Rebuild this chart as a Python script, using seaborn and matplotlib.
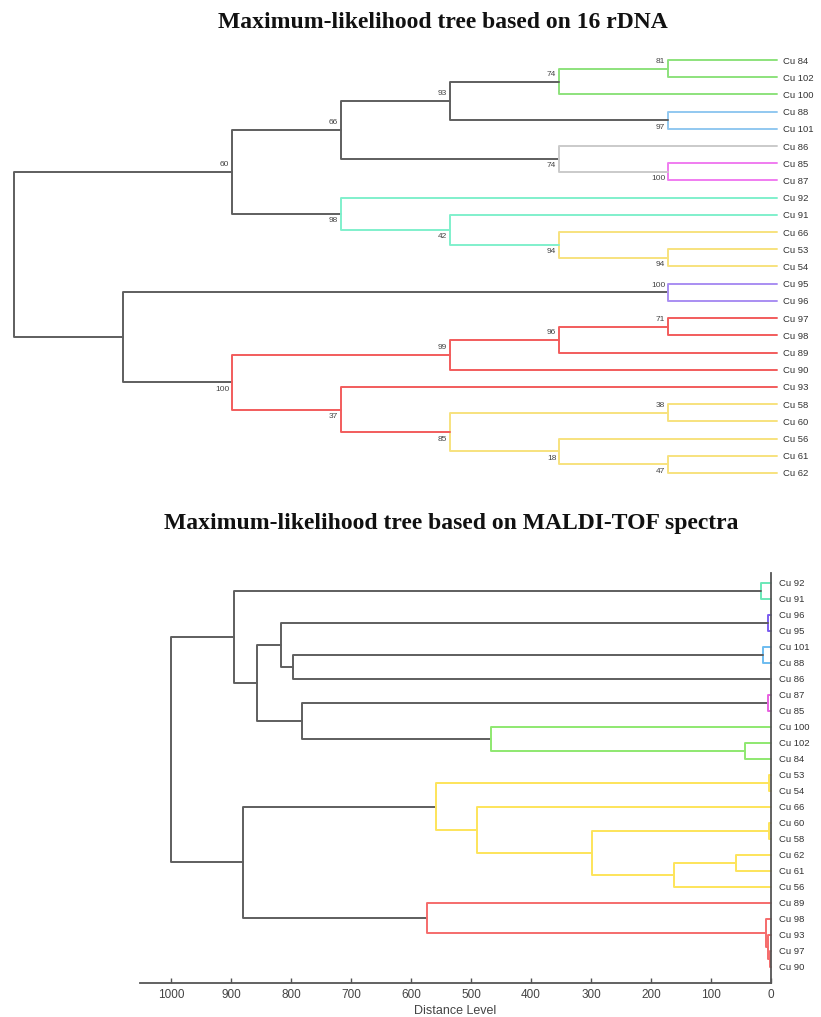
import matplotlib
matplotlib.use("Agg")
import matplotlib.pyplot as plt
import pandas as pd
import seaborn as sns

# ---- 16 rDNA tree (cladogram, bootstrap support) ----
top_leaves = ["Cu 84", "Cu 102", "Cu 100", "Cu 88", "Cu 101", "Cu 86", "Cu 85", "Cu 87",
              "Cu 92", "Cu 91", "Cu 66", "Cu 53", "Cu 54", "Cu 95", "Cu 96", "Cu 97",
              "Cu 98", "Cu 89", "Cu 90", "Cu 93", "Cu 58", "Cu 60", "Cu 56", "Cu 61", "Cu 62"]

# name, first child, second child, bootstrap
top_clades = [
    ("n81", "Cu 84", "Cu 102", 81),
    ("g74", "n81", "Cu 100", 74),
    ("n97", "Cu 88", "Cu 101", 97),
    ("n93", "g74", "n97", 93),
    ("p100", "Cu 85", "Cu 87", 100),
    ("n74", "Cu 86", "p100", 74),
    ("n66", "n93", "n74", 66),
    ("y94b", "Cu 53", "Cu 54", 94),
    ("y94a", "Cu 66", "y94b", 94),
    ("n42", "Cu 91", "y94a", 42),
    ("n98", "Cu 92", "n42", 98),
    ("n60", "n66", "n98", 60),
    ("v100", "Cu 95", "Cu 96", 100),
    ("n71", "Cu 97", "Cu 98", 71),
    ("n96", "n71", "Cu 89", 96),
    ("n99", "n96", "Cu 90", 99),
    ("n38", "Cu 58", "Cu 60", 38),
    ("n47", "Cu 61", "Cu 62", 47),
    ("n18", "Cu 56", "n47", 18),
    ("n85", "n38", "n18", 85),
    ("n37", "Cu 93", "n85", 37),
    ("r100", "n99", "n37", 100),
    ("nb", "v100", "r100", None),
    ("root", "n60", "nb", None),
]

# ---- MALDI-TOF tree (distance level) ----
bottom_leaves = ["Cu 92", "Cu 91", "Cu 96", "Cu 95", "Cu 101", "Cu 88", "Cu 86", "Cu 87",
                 "Cu 85", "Cu 100", "Cu 102", "Cu 84", "Cu 53", "Cu 54", "Cu 66", "Cu 60",
                 "Cu 58", "Cu 62", "Cu 61", "Cu 56", "Cu 89", "Cu 98", "Cu 93", "Cu 97", "Cu 90"]

# name, first child, second child, distance
bottom_clades = [
    ("c1", "Cu 92", "Cu 91", 17),
    ("p1", "Cu 96", "Cu 95", 5),
    ("b1", "Cu 101", "Cu 88", 13),
    ("m1", "b1", "Cu 86", 797),
    ("m2", "p1", "m1", 817),
    ("k1", "Cu 87", "Cu 85", 5),
    ("g1", "Cu 102", "Cu 84", 43),
    ("g2", "Cu 100", "g1", 467),
    ("m3", "k1", "g2", 782),
    ("m4", "m2", "m3", 857),
    ("m5", "c1", "m4", 895),
    ("y1", "Cu 53", "Cu 54", 4),
    ("y2", "Cu 60", "Cu 58", 4),
    ("y3", "Cu 62", "Cu 61", 58),
    ("y4", "y3", "Cu 56", 162),
    ("y5", "y2", "y4", 298),
    ("y6", "Cu 66", "y5", 490),
    ("y7", "y1", "y6", 558),
    ("r1", "Cu 97", "Cu 90", 2),
    ("r2", "Cu 93", "r1", 5),
    ("r3", "Cu 98", "r2", 8),
    ("r4", "Cu 89", "r3", 573),
    ("m6", "y7", "r4", 880),
    ("root", "m5", "m6", 1000),
]

# clade colours (style only)
top_colors = {"n81": "green", "g74": "green", "n97": "blue", "p100": "pink", "n74": "lgray",
              "y94a": "yellow", "y94b": "yellow", "n42": "cyan", "n98": "cyan", "v100": "purple",
              "n71": "red", "n96": "red", "n99": "red", "n37": "red", "r100": "red",
              "n38": "yellow", "n47": "yellow", "n18": "yellow", "n85": "yellow"}
bottom_colors = {"c1": "cyan", "p1": "purple", "b1": "blue", "k1": "pink", "g1": "green", "g2": "green",
                 "y1": "yellow", "y2": "yellow", "y3": "yellow", "y4": "yellow", "y5": "yellow",
                 "y6": "yellow", "y7": "yellow", "r1": "red", "r2": "red", "r3": "red", "r4": "red"}
pal_top = {"dark": "#5e5e5e", "green": "#8de27c", "blue": "#92c8f0", "pink": "#f07cf0",
           "lgray": "#cacaca", "yellow": "#f7e27e", "cyan": "#80f0cc", "purple": "#a98ef2",
           "red": "#f25c5c"}
pal_bottom = {"dark": "#5e5e5e", "green": "#8ee870", "blue": "#6cbcf0", "pink": "#e860e0",
              "yellow": "#fde45a", "cyan": "#6ae8b8", "purple": "#7b5cf0", "red": "#f56b6b"}


def layout(clades, leaves, xfun):
    kids = {n: (a, b) for n, a, b, _ in clades}
    ys = {leaf: i for i, leaf in enumerate(leaves)}
    xs = {}

    def walk(n):
        if n in kids:
            a, b = kids[n]
            walk(a)
            walk(b)
            ys[n] = (ys[a] + ys[b]) / 2
        xs[n] = xfun(n, kids)
    walk("root")
    return kids, xs, ys


def height(n, kids):
    if n not in kids:
        return 0
    return 1 + max(height(k, kids) for k in kids[n])


def segments(clades, kids, xs, ys, colors):
    rows = []
    for n, a, b, _ in clades:
        c = colors.get(n, "dark")
        pts = [(xs[a], ys[a]), (xs[n], ys[a]), (xs[n], ys[b]), (xs[b], ys[b])]
        for i, (x, y) in enumerate(pts):
            rows.append({"node": n, "color": c, "x": x, "y": y, "i": i})
    return pd.DataFrame(rows)


sns.set_theme(style="white")
plt.rcParams["font.family"] = ["Liberation Sans", "DejaVu Sans"]

fig = plt.figure(figsize=(8.21, 10.17), dpi=100)

# ---------- top tree ----------
hmax = 7
kids_t, xs_t, ys_t = layout(top_clades, top_leaves, lambda n, k: hmax - height(n, k))
seg_t = segments(top_clades, kids_t, xs_t, ys_t, top_colors)

ax1 = fig.add_axes([14 / 821, 1 - 481.6 / 1017, 763 / 821, 430.2 / 1017])
sns.lineplot(data=seg_t, x="x", y="y", units="node", hue="color", palette=pal_top,
             estimator=None, sort=False, legend=False, linewidth=1.4, ax=ax1)
for ln in ax1.lines:
    ln.set_clip_on(False)
ax1.set_xlim(0, hmax)
ax1.set_ylim(len(top_leaves) - 0.5, -0.5)
ax1.set_xlabel("")
ax1.set_ylabel("")
ax1.set_xticks([])
ax1.yaxis.tick_right()
ax1.set_yticks(range(len(top_leaves)))
ax1.set_yticklabels(top_leaves)
ax1.tick_params(axis="y", length=0, pad=4, labelsize=6.8, labelcolor="#333333")
for s in ax1.spines.values():
    s.set_visible(False)

parent = {}
for n, a, b, _ in top_clades:
    parent[a] = (n, 0)
    parent[b] = (n, 1)
for n, a, b, sup in top_clades:
    if sup is None:
        continue
    side = parent[n][1]
    ax1.annotate(str(sup), (xs_t[n], ys_t[n]), xytext=(-2, 2.5 if side == 0 else -2.5),
                 textcoords="offset points", ha="right", va="bottom" if side == 0 else "top",
                 fontsize=6, color="#444444")

fig.text(443 / 821, 1 - 22 / 1017, "Maximum-likelihood tree based on 16 rDNA",
         ha="center", va="center", fontsize=17, fontweight="bold",
         family=["Liberation Serif", "DejaVu Serif"], color="#111111")

# ---------- bottom tree ----------
dist_b = {c[0]: c[3] for c in bottom_clades}
kids_b, xs_b, ys_b = layout(bottom_clades, bottom_leaves,
                            lambda n, k: dist_b.get(n, 0))
seg_b = segments(bottom_clades, kids_b, xs_b, ys_b, bottom_colors)

ax2 = fig.add_axes([140 / 821, 1 - 983 / 1017, 631 / 821, 410 / 1017])
sns.lineplot(data=seg_b, x="x", y="y", units="node", hue="color", palette=pal_bottom,
             estimator=None, sort=False, legend=False, linewidth=1.4, ax=ax2)
for ln in ax2.lines:
    ln.set_clip_on(False)
ax2.set_xlim(1052, 0)
ax2.set_ylim(len(bottom_leaves), -0.625)
ax2.set_ylabel("")
ax2.set_xlabel("Distance Level", fontsize=9, color="#444444", labelpad=3)
ax2.set_xticks(range(0, 1001, 100))
ax2.tick_params(axis="x", direction="in", length=3.5, width=1, color="#555555",
                labelsize=8.5, labelcolor="#444444", pad=4, bottom=True)
ax2.yaxis.tick_right()
ax2.set_yticks(range(len(bottom_leaves)))
ax2.set_yticklabels(bottom_leaves)
ax2.tick_params(axis="y", length=0, pad=6, labelsize=6.8, labelcolor="#333333")
for side in ["left", "top"]:
    ax2.spines[side].set_visible(False)
for side in ["right", "bottom"]:
    ax2.spines[side].set_color("#555555")
    ax2.spines[side].set_linewidth(1.3)

fig.text(451 / 821, 1 - 523 / 1017, "Maximum-likelihood tree based on MALDI-TOF spectra",
         ha="center", va="center", fontsize=17, fontweight="bold",
         family=["Liberation Serif", "DejaVu Serif"], color="#111111")

fig.savefig("out.png", dpi=100, facecolor="white")
